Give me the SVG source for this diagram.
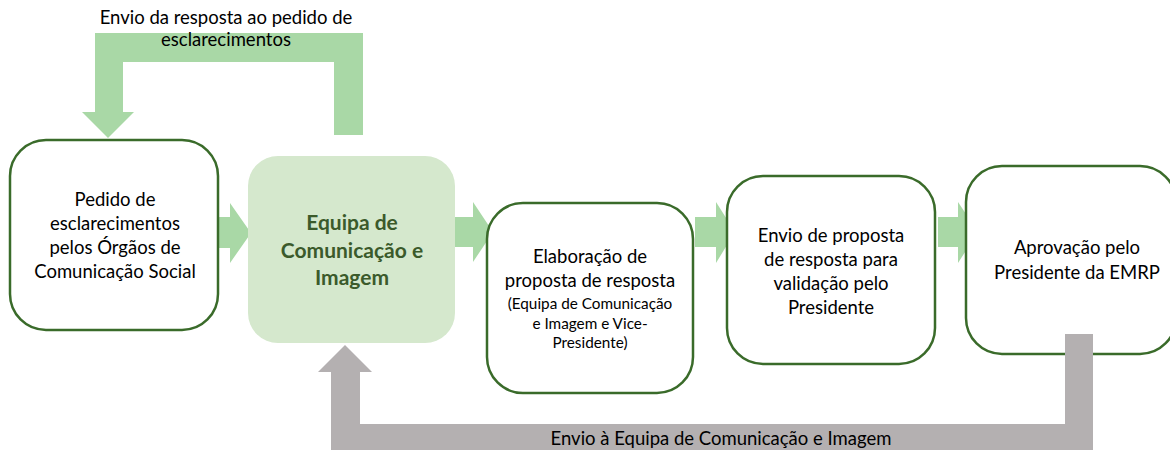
<svg xmlns="http://www.w3.org/2000/svg" width="1170" height="450" viewBox="0 0 1170 450">
<style>
text{font-family:Lato,"Open Sans","Liberation Sans",sans-serif;fill:#000;text-anchor:middle}
.t{font-size:18.5px}
.s{font-size:15.3px}
.b{font-size:21px;font-weight:bold;fill:#3b5a2b}
.box{fill:#fff;stroke:#3a6b2a;stroke-width:2.5}
.ga{fill:#a9d8a6}
.gr{fill:#b4b0b1}
</style>
<rect width="1170" height="450" fill="#fff"/>
<g id="connectors">
<path class="ga" d="M334,135 L334,62 L123,62 L123,112 L134,112 L108,138 L82,112 L95,112 L95,33 L363,33 L363,135 Z"/>
<path class="ga" d="M211,217 L230,217 L230,203 L251,233 L230,263 L230,248 L211,248 Z"/>
<path class="ga" d="M453,217 L473,217 L473,202 L493,232 L473,262 L473,247 L453,247 Z"/>
<path class="ga" d="M695,217 L716,217 L716,202 L735,232 L716,263 L716,247 L695,247 Z"/>
<path class="ga" d="M938,217 L958,217 L958,202 L978,232 L958,263 L958,247 L938,247 Z"/>
</g>
<g id="n1">
<rect class="box" x="10" y="140" width="208" height="190" rx="36"/>
<text class="t" x="115" y="206">Pedido de</text>
<text class="t" x="115" y="230">esclarecimentos</text>
<text class="t" x="115" y="254">pelos Órgãos de</text>
<text class="t" x="115" y="278">Comunicação Social</text>
</g>
<g id="n2">
<rect x="248" y="156" width="207" height="187" rx="30" fill="#d5e8cd"/>
<text class="b" x="352" y="230">Equipa de</text>
<text class="b" x="352" y="258">Comunicação e</text>
<text class="b" x="352" y="285">Imagem</text>
</g>
<g id="n3">
<rect class="box" x="487" y="203" width="206" height="190" rx="36"/>
<text class="t" x="590" y="263">Elaboração de</text>
<text class="t" x="590" y="287">proposta de resposta</text>
<text class="s" x="590" y="309">(Equipa de Comunicação</text>
<text class="s" x="590" y="329">e Imagem e Vice-</text>
<text class="s" x="590" y="348">Presidente)</text>
</g>
<g id="n4">
<rect class="box" x="727" y="176" width="208" height="188" rx="36"/>
<text class="t" x="831" y="242">Envio de proposta</text>
<text class="t" x="831" y="266">de resposta para</text>
<text class="t" x="831" y="290">validação pelo</text>
<text class="t" x="831" y="314">Presidente</text>
</g>
<g id="n5">
<rect class="box" x="966" y="166" width="210" height="188" rx="36"/>
<text class="t" x="1077" y="254">Aprovação pelo</text>
<text class="t" x="1077" y="279">Presidente da EMRP</text>
</g>
<g id="back">
<path class="gr" d="M1065,334 L1093,334 L1093,452 L331,452 L331,372 L318,372 L345,345 L372,372 L360,372 L360,424 L1065,424 Z"/>
</g>
<g id="labels">
<text class="t" x="226" y="24">Envio da resposta ao pedido de</text>
<text class="t" x="226" y="46">esclarecimentos</text>
<text class="t" x="721" y="445">Envio à Equipa de Comunicação e Imagem</text>
</g>
</svg>
